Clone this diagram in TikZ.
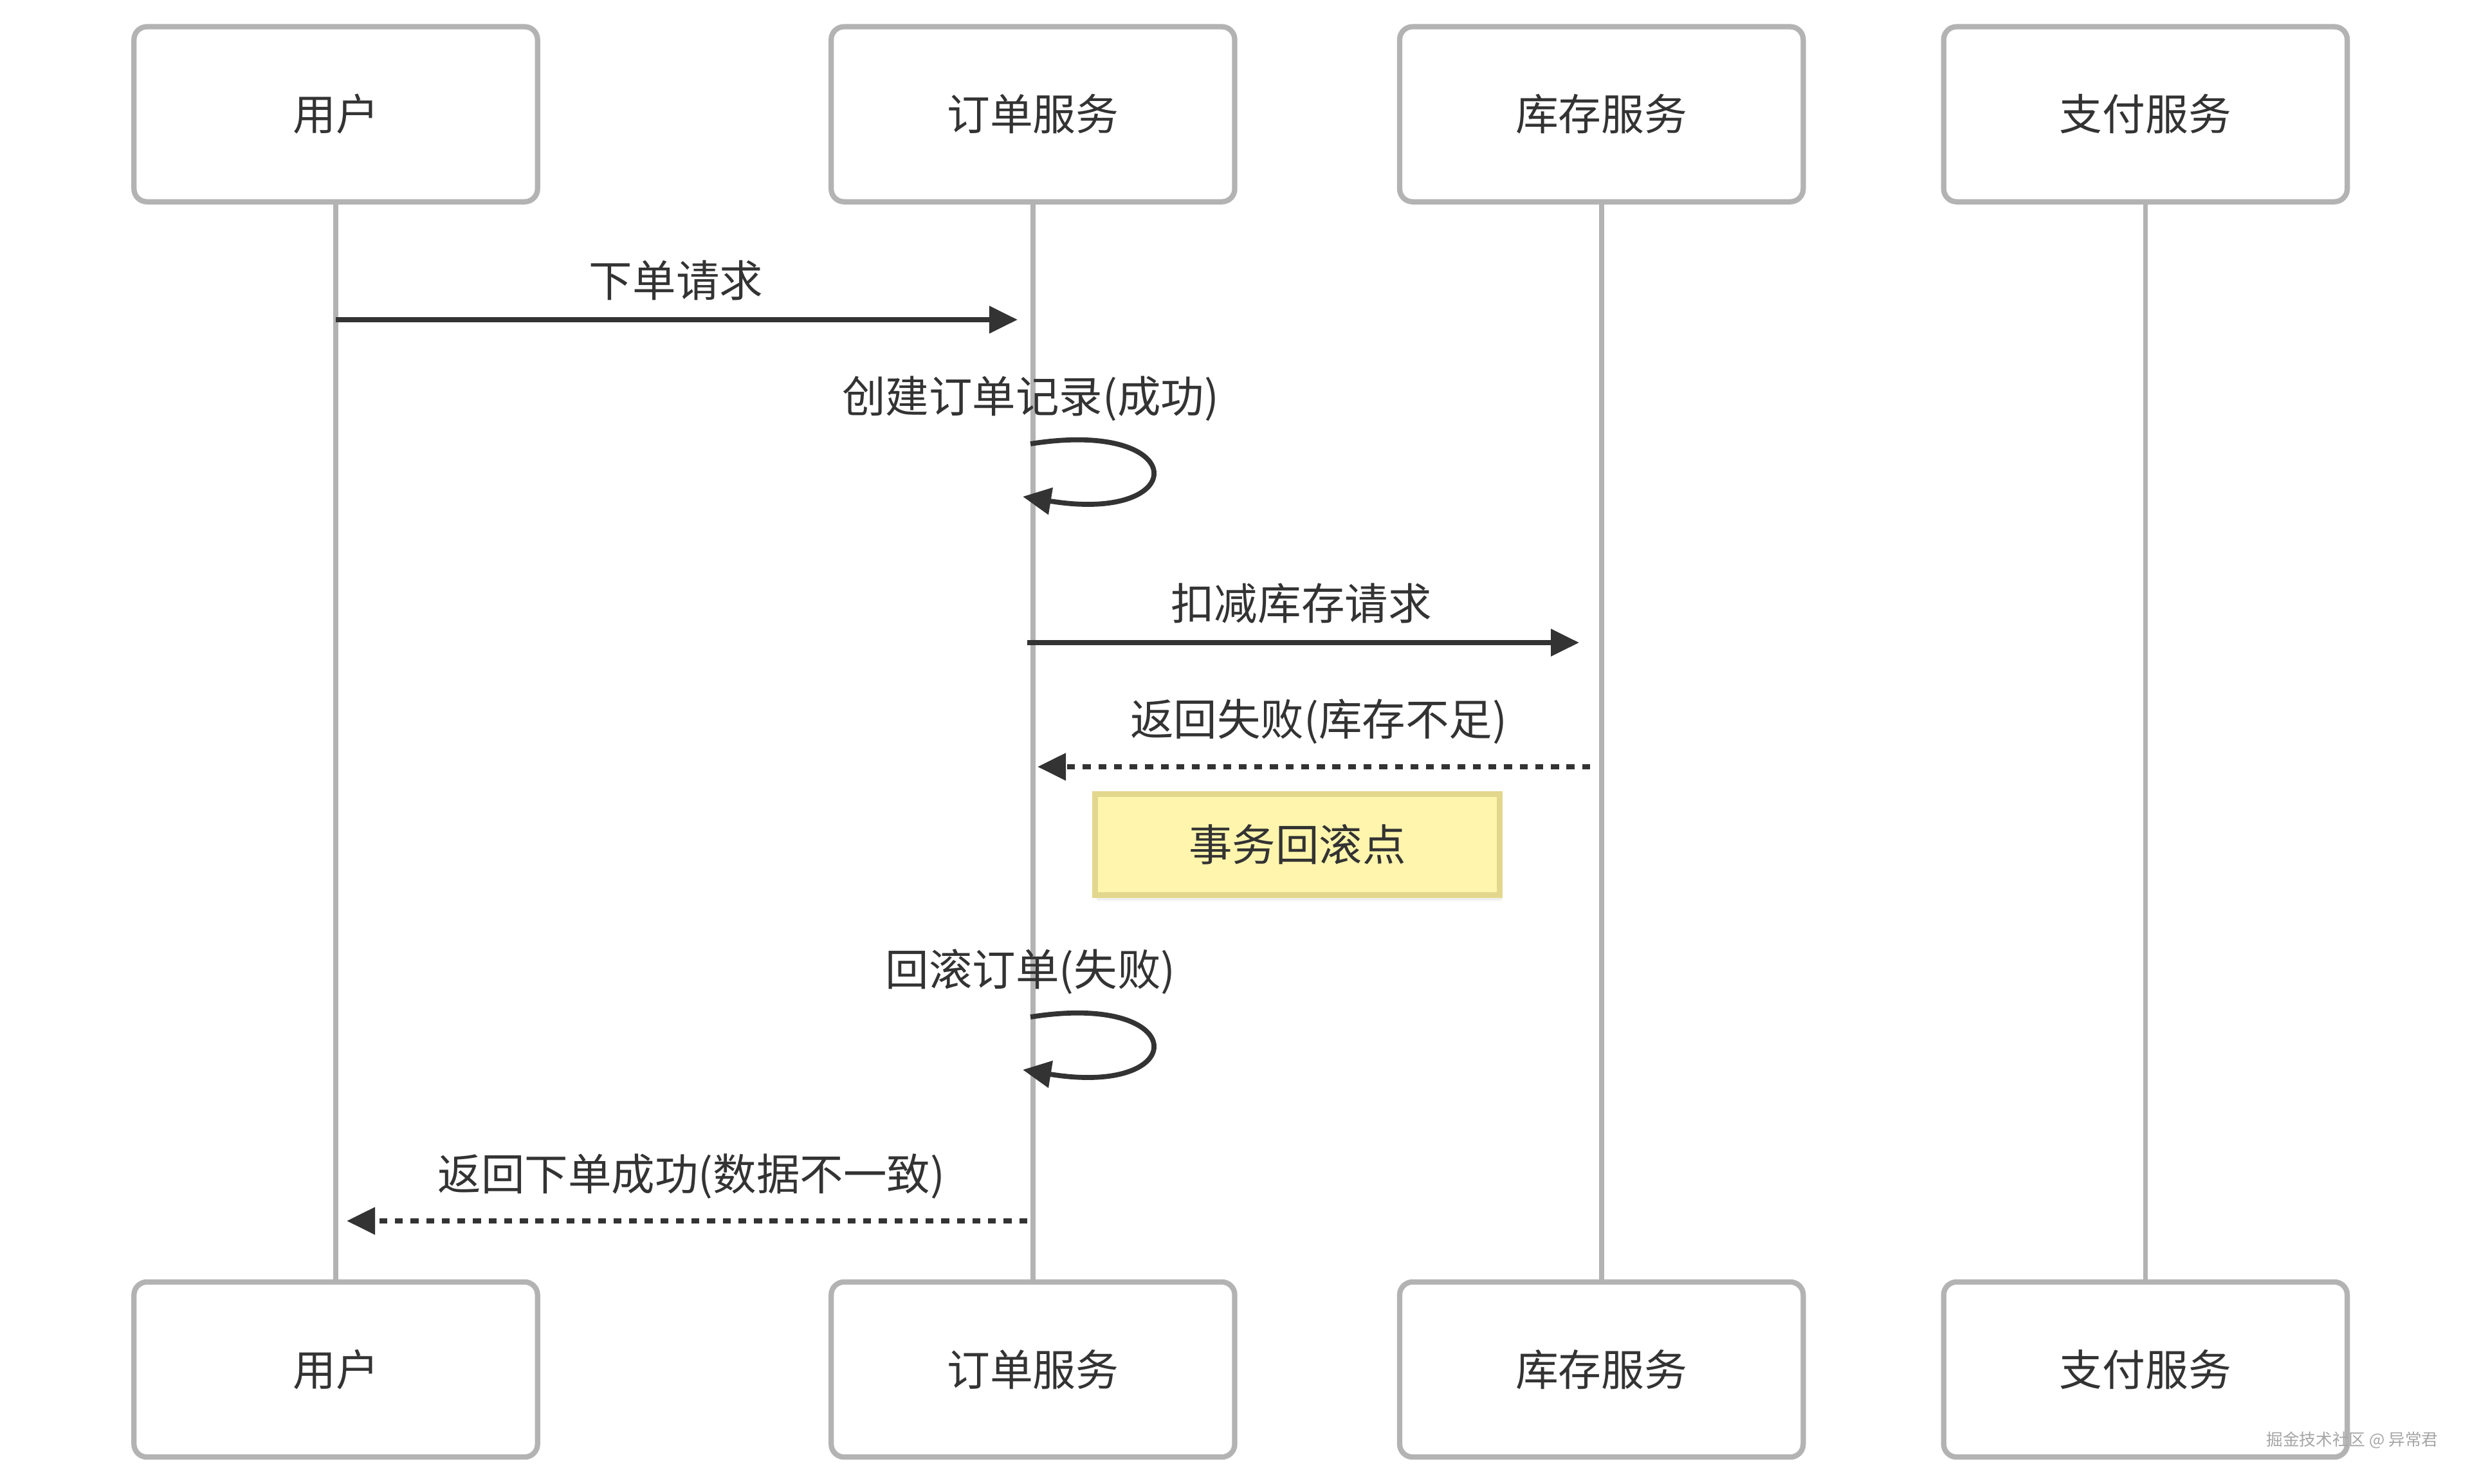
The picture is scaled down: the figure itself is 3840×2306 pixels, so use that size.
\documentclass[tikz,border=0pt]{standalone}
\usepackage{fontspec}
\setmainfont{Noto Sans CJK SC}
\usetikzlibrary{positioning,arrows.meta,shadows}
\definecolor{linegray}{HTML}{B3B3B3}
\definecolor{ink}{HTML}{333333}
\definecolor{notefill}{HTML}{FFF5AD}
\definecolor{noteline}{HTML}{E3D78E}

\begin{document}
\begin{tikzpicture}[x=0.01cm, y=-0.01cm,
                    actor/.style={draw=linegray, line width=2.35pt, rounded corners=0.2cm, fill=white, minimum width=6.27cm, minimum height=2.72cm, text=ink, font=\fontsize{19}{23}\selectfont},
                    lifeline/.style={draw=linegray, line width=2.2pt},
                    msg/.style={draw=ink, line width=2.2pt, -{Triangle[length=4.4mm, width=4.1mm]}},
                    reply/.style={msg, dash pattern=on 3.5pt off 3.4pt},
                    msglabel/.style={text=ink, inner sep=0pt, font=\fontsize{19.2}{23}\selectfont},
                    notebox/.style={draw=noteline, line width=2.4pt, fill=notefill, minimum width=6.29cm, minimum height=1.57cm, text=ink, font=\fontsize{19.2}{23}\selectfont, drop shadow={shadow xshift=0.03cm, shadow yshift=-0.08cm, opacity=0.12}},
                    wmtext/.style={text=gray!70, inner sep=0pt, font=\fontsize{7.3}{8}\selectfont},
                ]
                    \useasboundingbox (0,0) rectangle (3840,2306);

                    %Nodes
                    \node[actor](user) at (522,177.6) {用户};
                    \node[actor](order)[right=4.48cm of user] {订单服务};
                    \node[actor](stock)[right=2.48cm of order] {库存服务};
                    \node[actor](pay)[right=2.10cm of stock] {支付服务};
                    \node[actor](userB)[below=16.70cm of user] {用户};
                    \node[actor](orderB)[below=16.70cm of order] {订单服务};
                    \node[actor](stockB)[below=16.70cm of stock] {库存服务};
                    \node[actor](payB)[below=16.70cm of pay] {支付服务};

                    %Lifelines
                    \draw[lifeline](user.south) -- (userB.north);
                    \draw[lifeline](order.south) -- (orderB.north);
                    \draw[lifeline](stock.south) -- (stockB.north);
                    \draw[lifeline](pay.south) -- (payB.north);

                    %Message points
                    \coordinate (m1a) at (522,497);
                    \coordinate (m1b) at (1582,497);
                    \coordinate (c1a) at (1602,690);
                    \coordinate (c1b) at (1590,772);
                    \coordinate (m3a) at (1597,999);
                    \coordinate (m3b) at (2455,999);
                    \coordinate (m4a) at (2472,1192);
                    \coordinate (m4b) at (1613,1192);
                    \coordinate (c2a) at (1602,1581);
                    \coordinate (c2b) at (1590,1663);
                    \coordinate (m7a) at (1597,1898);
                    \coordinate (m7b) at (539,1898);

                    %Labels
                    \node[msglabel](t1) at (1051,436) {下单请求};
                    \node[msglabel](t2) at (1602,620) {创建订单记录(成功)};
                    \node[msglabel](t3) at (2023,938) {扣减库存请求};
                    \node[msglabel](t4) at (2050,1122) {返回失败(库存不足)};
                    \node[notebox](note) at (2017,1313) {事务回滚点};
                    \node[msglabel](t5) at (1602,1511) {回滚订单(失败)};
                    \node[msglabel](t6) at (1075,1829) {返回下单成功(数据不一致)};
                    \node[wmtext](wm) at (3657,2239) {掘金技术社区 @ 异常君};

                    %Lines
                    \draw[msg](m1a) -- (m1b);
                    \draw[msg](c1a) .. controls (1853,650) and (1853,815) .. (c1b);
                    \draw[msg](m3a) -- (m3b);
                    \draw[reply](m4a) -- (m4b);
                    \draw[msg](c2a) .. controls (1853,1541) and (1853,1706) .. (c2b);
                    \draw[reply](m7a) -- (m7b);
                \end{tikzpicture}
\end{document}
